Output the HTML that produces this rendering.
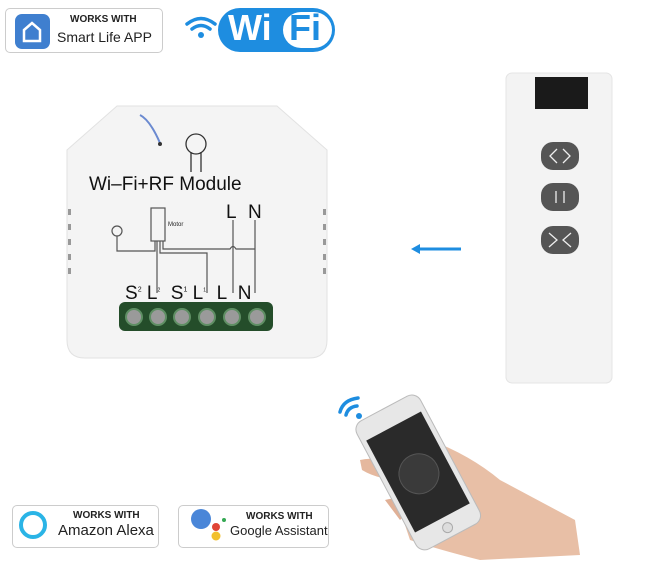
<!DOCTYPE html>
<html><head><style>
body{margin:0;width:671px;height:564px;background:#fff;overflow:hidden;position:relative;font-family:"Liberation Sans",sans-serif}
.b{position:absolute;border:1px solid #ccc;border-radius:5px;background:transparent}
.t{position:absolute;white-space:nowrap;color:#222}
</style></head><body>
<div class="b" style="left:5px;top:8px;width:156px;height:43px"></div>
<div class="b" style="left:12px;top:505px;width:145px;height:41px"></div>
<div class="b" style="left:178px;top:505px;width:149px;height:41px"></div>
<svg width="671" height="564" style="position:absolute;left:0;top:0">
<rect x="15" y="14" width="35" height="35" rx="7" fill="#3f7fcf"/>
<path d="M24 30 L32 23 L40 30 L40 41 L24 41 Z" fill="none" stroke="#fff" stroke-width="2.5"/>
<g fill="none" stroke="#1e8de0" stroke-width="3.5" stroke-linecap="round">
<path d="M187 24 Q201 13 215 24"/><path d="M192 29 Q201 22 210 29"/></g>
<circle cx="201" cy="35" r="3" fill="#1e8de0"/>
<rect x="218" y="8" width="117" height="44" rx="22" fill="#1e8de0"/>
<rect x="283" y="12" width="49" height="36" rx="18" fill="#fff"/>
<path d="M117 106 L277 106 L327 150 L327 340 Q327 358 309 358 L85 358 Q67 358 67 340 L67 150 Z" fill="#f4f4f4" stroke="#e2e2e2"/>
<g fill="#999"><rect x="68" y="209" width="3" height="6"/><rect x="68" y="224" width="3" height="6"/><rect x="68" y="239" width="3" height="6"/><rect x="68" y="254" width="3" height="6"/><rect x="68" y="268" width="3" height="6"/>
<rect x="323" y="209" width="3" height="6"/><rect x="323" y="224" width="3" height="6"/><rect x="323" y="239" width="3" height="6"/><rect x="323" y="254" width="3" height="6"/><rect x="323" y="268" width="3" height="6"/></g>
<path d="M140 115 Q150 120 160 143" stroke="#6b8ad0" stroke-width="2" fill="none"/>
<circle cx="160" cy="144" r="2" fill="#333"/>
<circle cx="196" cy="144" r="10" fill="none" stroke="#333" stroke-width="1.3"/>
<path d="M191 152 L191 172 M201 152 L201 172" stroke="#333" stroke-width="1.3"/>
<g stroke="#555" stroke-width="1.2" fill="none">
<rect x="151" y="208" width="14" height="33"/>
<circle cx="117" cy="231" r="5"/>
<path d="M117 236 L117 251 L155 251 L155 241"/>
<path d="M157 241 L157 293 M160 241 L160 253 L207 253 L207 293"/>
<path d="M163 241 L163 249 L230 249 Q233 244 236 249 L255 249"/>
<path d="M233 220 L233 293 M255 220 L255 293"/>
</g>
<rect x="119" y="302" width="154" height="29" rx="6" fill="#244d2a"/>
<g fill="#9a9a9a" stroke="#5f8f64" stroke-width="2">
<circle cx="134" cy="317" r="8"/><circle cx="158" cy="317" r="8"/><circle cx="182" cy="317" r="8"/><circle cx="207" cy="317" r="8"/><circle cx="232" cy="317" r="8"/><circle cx="257" cy="317" r="8"/></g>
<path d="M419 249 L461 249" stroke="#1e8de0" stroke-width="3"/>
<path d="M411 249 L420 244 L420 254 Z" fill="#1e8de0"/>
<rect x="506" y="73" width="106" height="310" rx="6" fill="#f3f3f3" stroke="#e4e4e4"/>
<rect x="535" y="77" width="53" height="32" fill="#1a1a1a"/>
<rect x="541" y="142" width="38" height="28" rx="12" fill="#555"/>
<rect x="541" y="183" width="38" height="28" rx="12" fill="#555"/>
<rect x="541" y="226" width="38" height="28" rx="12" fill="#555"/>
<g stroke="#eee" stroke-width="1.3" fill="none">
<path d="M557 149 L550 156 L557 163 M563 149 L570 156 L563 163"/>
<path d="M556 191 L556 203 M564 191 L564 203"/>
<path d="M549 233 L557 240 L549 247 M571 233 L563 240 L571 247"/></g>
<g fill="none" stroke="#1e8de0" stroke-width="3.5" stroke-linecap="round">
<path d="M340 412 Q343 400 358 398"/><path d="M346 415 Q348 407 357 406"/></g>
<circle cx="359" cy="416" r="3" fill="#1e8de0"/>
<path d="M430 440 Q470 455 500 480 L575 520 L580 555 L480 560 Q440 550 410 540 L400 510 L390 470 Z" fill="#e8bfa6"/>
<path d="M360 460 Q380 455 400 470 L395 480 Q375 478 362 470 Z" fill="#e5b89e"/>
<path d="M385 500 Q400 495 410 510 L400 520 Z" fill="#e0b096"/>
<g transform="rotate(-28 418 472)">
<rect x="382" y="400" width="72" height="145" rx="10" fill="#e7e7e7" stroke="#bbb"/>
<rect x="387" y="420" width="62" height="104" fill="#2a2a2a"/>
<circle cx="418" cy="474" r="20" fill="#3a3a3a" stroke="#555"/>
<circle cx="418" cy="535" r="5" fill="#ddd" stroke="#aaa"/>
</g>
<circle cx="33" cy="525" r="12" fill="none" stroke="#2ab4e6" stroke-width="4"/>
<circle cx="201" cy="519" r="10" fill="#4a86d8"/>
<circle cx="216" cy="527" r="4" fill="#e04437"/>
<circle cx="216" cy="536" r="4.5" fill="#f2c02e"/>
<circle cx="224" cy="520" r="2" fill="#34a853"/>
</svg>
<div class="t" style="left:70px;top:14px;font-size:10px;font-weight:bold">WORKS WITH</div>
<div class="t" style="left:57px;top:29px;font-size:14px">Smart Life APP</div>
<div class="t" style="left:228px;top:7px;font-size:36px;font-weight:bold;color:#fff">Wi</div>
<div class="t" style="left:289px;top:7px;font-size:36px;font-weight:bold;color:#1e8de0">Fi</div>
<div class="t" style="left:89px;top:174px;font-size:19px;color:#111">Wi–Fi+RF Module</div>
<div class="t" style="left:168px;top:222px;font-size:6px">Motor</div>
<div class="t" style="left:226px;top:202px;font-size:19px;color:#111">L</div>
<div class="t" style="left:248px;top:202px;font-size:19px;color:#111">N</div>
<div class="t" style="left:125px;top:283px;font-size:19px;color:#111">S<sup style="font-size:7px">2</sup> L<sup style="font-size:5px">2</sup>&nbsp; S<sup style="font-size:7px">1</sup> L<sup style="font-size:5px">1</sup>&nbsp; L&nbsp; N</div>
<div class="t" style="left:73px;top:510px;font-size:10px;font-weight:bold">WORKS WITH</div>
<div class="t" style="left:58px;top:522px;font-size:15px">Amazon Alexa</div>
<div class="t" style="left:246px;top:511px;font-size:10px;font-weight:bold">WORKS WITH</div>
<div class="t" style="left:230px;top:523px;font-size:13px">Google Assistant</div>
</body></html>
